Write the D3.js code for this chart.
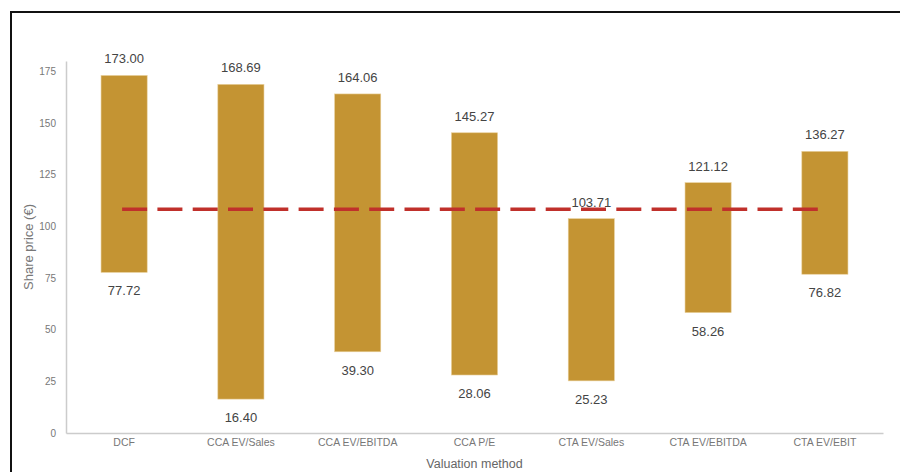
<!DOCTYPE html>
<html>
<head>
<meta charset="utf-8">
<script src="https://cdn.jsdelivr.net/npm/d3@7"></script>
<style>
  body { margin: 0; background: #fff; }
  text { font-family: "Liberation Sans", Arial, sans-serif; }
</style>
</head>
<body>
<script>
// valuation ranges per method
var methods = ["DCF", "CCA EV/Sales", "CCA EV/EBITDA", "CCA P/E", "CTA EV/Sales", "CTA EV/EBITDA", "CTA EV/EBIT"];
var lows = [77.72, 16.40, 39.30, 28.06, 25.23, 58.26, 76.82];
var highs = [173.00, 168.69, 164.06, 145.27, 103.71, 121.12, 136.27];
var currentPrice = 108.3;
var yTicks = [0, 25, 50, 75, 100, 125, 150, 175];

var W = 900, H = 472;
var margin = {top: 61, right: 17, bottom: 39, left: 66}
  , width = W - margin.left - margin.right
  , height = H - margin.top - margin.bottom;

var svg = d3.select("body").append("svg")
  .attr("width", W)
  .attr("height", H);

// frame (cut off at right/bottom like the screenshot)
svg.append("rect")
  .attr("x", 11).attr("y", 12)
  .attr("width", W + 20).attr("height", H + 20)
  .attr("fill", "none")
  .attr("stroke", "#111")
  .attr("stroke-width", 2);

var main = svg.append("g")
  .attr("transform", "translate(" + margin.left + "," + margin.top + ")");

var x = d3.scaleBand()
  .domain(methods)
  .range([0, width])
  .paddingInner(0.605)
  .paddingOuter(0.3);

var y = d3.scaleLinear()
  .domain([0, 180])
  .range([height, 0]);

// axes
var yAxis = main.append("g")
  .call(d3.axisLeft(y).tickValues(yTicks).tickSize(0).tickPadding(10));
yAxis.select(".domain").attr("stroke", "#ccc").attr("stroke-width", 1.5);
yAxis.selectAll("text").attr("fill", "#777").attr("font-size", 10)
  .style("font-family", "Liberation Sans, Arial, sans-serif");

var xAxis = main.append("g")
  .attr("transform", "translate(0," + height + ")")
  .call(d3.axisBottom(x).tickSize(0).tickPadding(6));
xAxis.select(".domain").attr("stroke", "#ccc").attr("stroke-width", 1.5);
xAxis.selectAll("text").attr("fill", "#777").attr("font-size", 10.5)
  .style("font-family", "Liberation Sans, Arial, sans-serif");

// range bars
var rows = methods.map(function(m, i) { return {m: m, lo: lows[i], hi: highs[i]}; });

main.selectAll(".bar")
  .data(rows)
  .enter().append("rect")
  .attr("class", "bar")
  .attr("x", function(d) { return x(d.m); })
  .attr("width", x.bandwidth())
  .attr("y", function(d) { return y(d.hi); })
  .attr("height", function(d) { return y(d.lo) - y(d.hi); })
  .attr("fill", "#c49433")
  .attr("stroke", "#e8cf9a")
  .attr("stroke-width", 0.6);

// value labels
main.selectAll(".hiLbl")
  .data(rows)
  .enter().append("text")
  .attr("x", function(d) { return x(d.m) + x.bandwidth() / 2; })
  .attr("y", function(d) { return y(d.hi) - 12; })
  .attr("text-anchor", "middle")
  .attr("font-size", 13)
  .attr("fill", "#444")
  .text(function(d) { return d.hi.toFixed(2); });

main.selectAll(".loLbl")
  .data(rows)
  .enter().append("text")
  .attr("x", function(d) { return x(d.m) + x.bandwidth() / 2; })
  .attr("y", function(d) { return y(d.lo) + 23; })
  .attr("text-anchor", "middle")
  .attr("font-size", 13)
  .attr("fill", "#444")
  .text(function(d) { return d.lo.toFixed(2); });

// current share price line
main.append("line")
  .attr("x1", x(methods[0]) + x.bandwidth() / 2 - 2)
  .attr("x2", x(methods[methods.length - 1]) + x.bandwidth() / 2 - 7)
  .attr("y1", y(currentPrice))
  .attr("y2", y(currentPrice))
  .attr("stroke", "#c0302b")
  .attr("stroke-width", 3.5)
  .attr("stroke-dasharray", "25,10.3");

// axis titles
svg.append("text")
  .attr("transform", "translate(33," + (margin.top + height / 2) + ") rotate(-90)")
  .attr("text-anchor", "middle")
  .attr("font-size", 13)
  .attr("fill", "#777")
  .text("Share price (€)");

svg.append("text")
  .attr("x", margin.left + width / 2)
  .attr("y", 468)
  .attr("text-anchor", "middle")
  .attr("font-size", 12.5)
  .attr("fill", "#666")
  .text("Valuation method");
</script>
</body>
</html>
